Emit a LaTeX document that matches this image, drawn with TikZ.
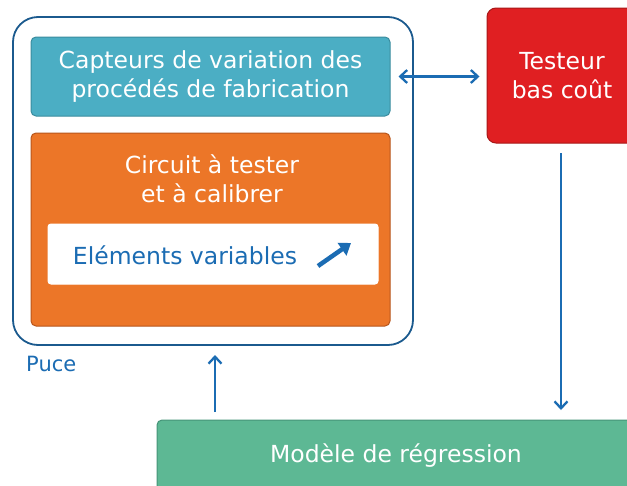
\documentclass[tikz,border=0pt]{standalone}
\usepackage{fontspec}
\setmainfont{DejaVu Sans}
\usetikzlibrary{arrows.meta}
\definecolor{pucec}{HTML}{1B5A8E}
\definecolor{bluec}{HTML}{1B6CB3}
\definecolor{captf}{HTML}{4BAEC4}
\definecolor{captd}{HTML}{3A8C9E}
\definecolor{orf}{HTML}{EC7628}
\definecolor{ord}{HTML}{B8561C}
\definecolor{redf}{HTML}{E01F22}
\definecolor{redd}{HTML}{A81818}
\definecolor{grf}{HTML}{5DB894}
\definecolor{grd}{HTML}{459478}
\tikzset{
  box/.style={rectangle, rounded corners=5pt, line width=1pt, inner sep=0pt, align=center, text=white,
    font=\fontsize{23.5}{28.5}\selectfont},
  barb/.tip={Straight Barb[length=7pt,width=13pt,line width=2.3pt]},
  conn/.style={draw=bluec, line width=2.3pt, -barb},
}
\begin{document}
\begin{tikzpicture}[x=1pt,y=-1pt]
\clip (0,0) rectangle (627,485);
\fill[white] (0,0) rectangle (627,485);
\node[rectangle, draw=pucec, line width=1.8pt, rounded corners=25pt, minimum width=400pt, minimum height=328pt] (puce) at (213,181) {};
\node[box, fill=captf, draw=captd, minimum width=359pt, minimum height=79pt] (capteurs) at (210.5,76.5) {Capteurs de variation des\\procédés de fabrication};
\node[box, fill=orf, draw=ord, minimum width=359pt, minimum height=193pt] (circuit) at (210.5,229.5) {};
\node[box] (circtxt) at (212,179) {Circuit à tester\\et à calibrer};
\node[box, fill=white, draw=white, rounded corners=3pt, minimum width=330pt, minimum height=60pt] (elem) at (213,254) {};
\node[box, text=bluec] (elemtxt) at (185,255) {Eléments variables};
\coordinate (da) at (318,266);
\coordinate (db) at (351,243);
\draw[bluec, line width=4.5pt, -{Triangle[length=11pt,width=15pt]}] (da) -- (db);
\node[box, fill=redf, draw=redd, rounded corners=9pt, minimum width=150pt, minimum height=135pt] (testeur) at (562,75.5) {Testeur\\bas coût};
\node[box, fill=grf, draw=grd, minimum width=478pt, minimum height=72pt] (modele) at (396,456) {Modèle de régression};
\node[anchor=west, text=bluec, font=\fontsize{21}{24}\selectfont, inner sep=0pt] (pucetxt) at (26,364) {Puce};
\draw[conn, barb-barb] ([xshift=8pt]capteurs.east) -- ([xshift=-7pt]testeur.west |- capteurs.east);
\draw[conn] (561,153) -- (561,410);
\draw[conn] (215,412) -- (215,355);
\end{tikzpicture}
\end{document}
